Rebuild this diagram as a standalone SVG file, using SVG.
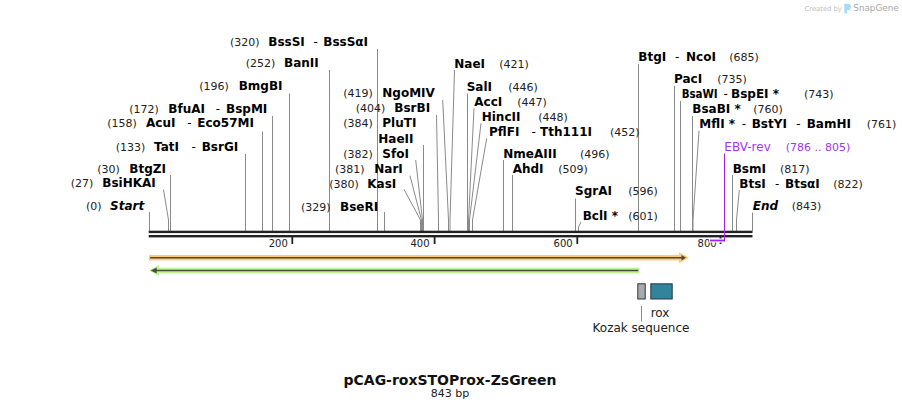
<svg xmlns="http://www.w3.org/2000/svg" width="902" height="410" viewBox="0 0 902 410">
<style>
text{font-family:"DejaVu Sans",Verdana,"Liberation Sans",sans-serif}
.n{font-size:11px;fill:#222}
.e{font-size:12px;font-weight:bold;fill:#000}
.d{font-size:12px;fill:#000}
.s{font-size:12px;font-weight:bold;font-style:italic;fill:#000}
.t{font-size:10px;fill:#222}
.p{fill:#a335f2}
.ln{fill:none;stroke:#8a8a8a;stroke-width:1}
.f{font-size:12px;fill:#222}
</style>
<rect width="902" height="410" fill="#fff"/>

<g id="watermark">
<text x="804.5" y="10.5" style="font-size:6.8px;fill:#bdbdbd">Created by</text>
<path d="M844.3,3.8 h3.6 a3.1,3.1 0 0 1 0,6.2 h-0.8 v3.6 h-2.8 z" fill="#a8dcf6"/>
<text x="853.3" y="11" style="font-size:8.8px;fill:#a8a8a8">SnapGene</text>
</g>

<g id="connectors">
<path class="ln" d="M149.5,212 V231"/>
<path class="ln" d="M163.5,189.5 L168.5,220 V231"/>
<path class="ln" d="M170.5,175 V231"/>
<path class="ln" d="M245.5,154 V231"/>
<path class="ln" d="M262.5,131.5 V231"/>
<path class="ln" d="M272.5,116 V231"/>
<path class="ln" d="M289.5,93.5 V231"/>
<path class="ln" d="M329.5,70 V231"/>
<path class="ln" d="M377.5,49 V231"/>
<path class="ln" d="M384.5,212 V231"/>
<path class="ln" d="M442.7,100 L448.5,220 V231"/>
<path class="ln" d="M436.5,115 L438.5,220 V231"/>
<path class="ln" d="M423.5,145 V231"/>
<path class="ln" d="M415.7,160 L422.5,220 V231"/>
<path class="ln" d="M410,175.7 L421.5,220 V231"/>
<path class="ln" d="M404,189.3 L420.5,220 V231"/>
<path class="ln" d="M454.5,70 L450,220 V231"/>
<path class="ln" d="M467.5,93.5 V231"/>
<path class="ln" d="M474,108.3 L468.5,220 V231"/>
<path class="ln" d="M481,123.3 L469.5,220 V231"/>
<path class="ln" d="M486.7,138.3 L472.5,220 V231"/>
<path class="ln" d="M503.5,160 V231"/>
<path class="ln" d="M512.5,175 V231"/>
<path class="ln" d="M575.5,198.5 V231"/>
<path class="ln" d="M581,222 L578.5,227 V231"/>
<path class="ln" d="M638.5,64 V231"/>
<path class="ln" d="M674.5,86 V231"/>
<path class="ln" d="M680.5,101 V231"/>
<path class="ln" d="M692.5,116 V231"/>
<path class="ln" d="M699,130.7 L693,220 V231"/>
<path class="ln" d="M732.5,175 V231"/>
<path class="ln" d="M739.3,190 L736.5,220 V231"/>
<path class="ln" d="M752.5,212.5 V231"/>
<path class="ln" d="M641.5,306 V321.5"/>
</g>

<g id="backbone">
<rect x="148.7" y="230.7" width="603.8" height="2.4" fill="#222"/>
<rect x="148.7" y="235" width="603.8" height="2.4" fill="#222"/>
<rect x="291.4" y="237" width="1.8" height="7" fill="#222"/>
<rect x="433.7" y="237" width="1.8" height="7" fill="#222"/>
<rect x="576.4" y="237" width="1.8" height="7" fill="#222"/>
<rect x="719.6" y="237" width="1.8" height="7" fill="#222"/>
<text class="t" x="287.8" y="247" text-anchor="end">200</text>
<text class="t" x="429.5" y="247" text-anchor="end">400</text>
<text class="t" x="572.7" y="247" text-anchor="end">600</text>
<text class="t" x="716.7" y="247" text-anchor="end">800</text>
</g>

<g id="orf-forward">
<rect x="149" y="255" width="532" height="5.4" fill="#fdca7c"/>
<polygon points="679,252.2 689,257.7 679,263.2" fill="#fdca7c"/>
<line x1="150" y1="257.7" x2="682" y2="257.7" stroke="#4b4a3e" stroke-width="1.6"/>
<polygon points="681.5,255 686,257.7 681.5,260.4" fill="#4b4a3e"/>
</g>

<g id="orf-reverse">
<rect x="155" y="267.7" width="484.3" height="5.6" fill="#bdf590"/>
<polygon points="159,265 148.8,270.5 159,276" fill="#bdf590"/>
<line x1="155" y1="270.5" x2="638.3" y2="270.5" stroke="#4b4a3e" stroke-width="1.6"/>
<polygon points="156.7,267.6 150.7,270.5 156.7,273.4" fill="#4b4a3e"/>
</g>

<g id="feature-kozak">
<rect x="637.8" y="283.8" width="7.4" height="15.2" fill="#a6aab1" stroke="#333" stroke-width="1"/>
<text class="f" x="641" y="331.7" text-anchor="middle">Kozak sequence</text>
</g>
<g id="feature-rox">
<rect x="650.8" y="283.8" width="21.4" height="15.2" fill="#31849b" stroke="#2b3a40" stroke-width="1"/>
<text class="f" x="650.7" y="316.7">rox</text>
</g>

<g id="primer-EBV-rev">
<line x1="709" y1="240.5" x2="726" y2="240.5" stroke="#fff" stroke-width="4"/>
<line x1="710" y1="240.5" x2="725" y2="240.5" stroke="#a020f0" stroke-width="1.8"/>
<line x1="724.5" y1="153.5" x2="724.5" y2="241.4" stroke="#a020f0" stroke-width="1"/>
<text class="d p" x="724.3" y="150.7" style="fill:#a335f2">EBV-rev</text>
<text class="n p" x="785.7" y="150.7" style="fill:#a335f2">(786 .. 805)</text>
</g>

<g id="site-start"><text class="n" x="86" y="210">(0)</text><text class="s" x="110" y="210">Start</text></g>
<g id="site-BsiHKAI"><text class="n" x="70.7" y="187.3">(27)</text><text class="e" x="102.3" y="187.3">BsiHKAI</text></g>
<g id="site-BtgZI"><text class="n" x="97.3" y="172.7">(30)</text><text class="e" x="129.3" y="172.7">BtgZI</text></g>
<g id="site-TatI"><text class="n" x="115.7" y="150.7">(133)</text><text class="e" x="154" y="150.7">TatI</text><text class="d" x="191.5" y="150.7">-</text><text class="e" x="201.7" y="150.7">BsrGI</text></g>
<g id="site-AcuI"><text class="n" x="107.3" y="127.3">(158)</text><text class="e" x="146" y="127.3">AcuI</text><text class="d" x="187.3" y="127.3">-</text><text class="e" x="197.3" y="127.3">Eco57MI</text></g>
<g id="site-BfuAI"><text class="n" x="129.3" y="112.7">(172)</text><text class="e" x="168.3" y="112.7">BfuAI</text><text class="d" x="215.7" y="112.7">-</text><text class="e" x="226" y="112.7">BspMI</text></g>
<g id="site-BmgBI"><text class="n" x="199.3" y="90">(196)</text><text class="e" x="238.7" y="90">BmgBI</text></g>
<g id="site-BanII"><text class="n" x="245.7" y="67.3">(252)</text><text class="e" x="284" y="67.3">BanII</text></g>
<g id="site-BssSI"><text class="n" x="230" y="45.7">(320)</text><text class="e" x="268.3" y="45.7">BssSI</text><text class="d" x="313.5" y="45.7">-</text><text class="e" x="323.3" y="45.7">BssSαI</text></g>
<g id="site-BseRI"><text class="n" x="301" y="210.7">(329)</text><text class="e" x="340" y="210.7">BseRI</text></g>
<g id="site-KasI"><text class="n" x="329.3" y="187.7">(380)</text><text class="e" x="367.3" y="187.7">KasI</text></g>
<g id="site-NarI"><text class="n" x="335" y="173.3">(381)</text><text class="e" x="374.3" y="173.3">NarI</text></g>
<g id="site-SfoI"><text class="n" x="343.3" y="157.7">(382)</text><text class="e" x="382.3" y="157.7">SfoI</text></g>
<g id="site-PluTI"><text class="n" x="343.3" y="127.3">(384)</text><text class="e" x="382.3" y="127.3">PluTI</text><text class="e" x="378.3" y="142.7">HaeII</text></g>
<g id="site-BsrBI"><text class="n" x="355.7" y="112.3">(404)</text><text class="e" x="394.3" y="112.3">BsrBI</text></g>
<g id="site-NgoMIV"><text class="n" x="343.3" y="96.7">(419)</text><text class="e" x="382.3" y="96.7">NgoMIV</text></g>
<g id="site-NaeI"><text class="e" x="454.3" y="67.7">NaeI</text><text class="n" x="499.3" y="67.7">(421)</text></g>
<g id="site-SalI"><text class="e" x="466.7" y="91">SalI</text><text class="n" x="508.3" y="91">(446)</text></g>
<g id="site-AccI"><text class="e" x="474.3" y="106">AccI</text><text class="n" x="517.3" y="106">(447)</text></g>
<g id="site-HincII"><text class="e" x="481.7" y="121">HincII</text><text class="n" x="538.3" y="121">(448)</text></g>
<g id="site-PflFI"><text class="e" x="489" y="136">PflFI</text><text class="d" x="531.5" y="136">-</text><text class="e" x="540" y="136">Tth111I</text><text class="n" x="610" y="136">(452)</text></g>
<g id="site-NmeAIII"><text class="e" x="503.3" y="157.7">NmeAIII</text><text class="n" x="580" y="157.7">(496)</text></g>
<g id="site-AhdI"><text class="e" x="512.7" y="172.7">AhdI</text><text class="n" x="558.3" y="172.7">(509)</text></g>
<g id="site-SgrAI"><text class="e" x="575" y="195">SgrAI</text><text class="n" x="628.3" y="195">(596)</text></g>
<g id="site-BclI"><text class="e" x="582.7" y="220">BclI *</text><text class="n" x="628.3" y="220">(601)</text></g>
<g id="site-BtgI"><text class="e" x="638.3" y="60.7">BtgI</text><text class="d" x="675" y="60.7">-</text><text class="e" x="686" y="60.7">NcoI</text><text class="n" x="729.3" y="60.7">(685)</text></g>
<g id="site-PacI"><text class="e" x="674" y="83.3">PacI</text><text class="n" x="717.3" y="83.3">(735)</text></g>
<g id="site-BsaWI"><text class="e" x="681.7" y="98.3" textLength="36" lengthAdjust="spacingAndGlyphs">BsaWI</text><text class="d" x="723.5" y="98.3">-</text><text class="e" x="731" y="98.3">BspEI *</text><text class="n" x="804" y="98.3">(743)</text></g>
<g id="site-BsaBI"><text class="e" x="692.3" y="113.3">BsaBI *</text><text class="n" x="753.3" y="113.3">(760)</text></g>
<g id="site-MflI"><text class="e" x="699.3" y="128.3">MflI *</text><text class="d" x="741.7" y="128.3">-</text><text class="e" x="751.7" y="128.3">BstYI</text><text class="d" x="796.3" y="128.3">-</text><text class="e" x="806.7" y="128.3">BamHI</text><text class="n" x="866.7" y="128.3">(761)</text></g>
<g id="site-BsmI"><text class="e" x="732.7" y="172.7">BsmI</text><text class="n" x="780" y="172.7">(817)</text></g>
<g id="site-BtsI"><text class="e" x="739.3" y="187.7">BtsI</text><text class="d" x="775" y="187.7">-</text><text class="e" x="785" y="187.7">BtsαI</text><text class="n" x="833.3" y="187.7">(822)</text></g>
<g id="site-end"><text class="s" x="752.7" y="210">End</text><text class="n" x="791.7" y="210">(843)</text></g>

<g id="title">
<text x="450" y="385" text-anchor="middle" style="font-size:14px;font-weight:bold;fill:#111">pCAG-roxSTOProx-ZsGreen</text>
<text x="450" y="397" text-anchor="middle" style="font-size:11px;fill:#222">843 bp</text>
</g>
</svg>
